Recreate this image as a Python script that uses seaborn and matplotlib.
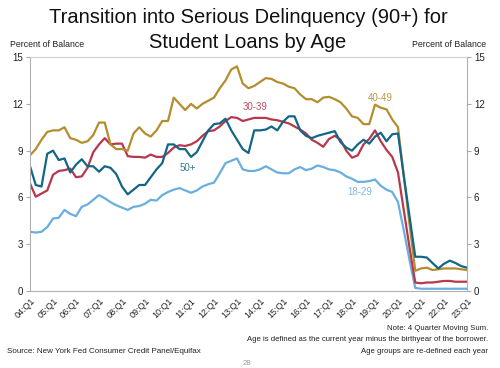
import matplotlib
matplotlib.use("Agg")
import matplotlib.pyplot as plt
import seaborn as sns
import pandas as pd

# Quarterly series, 2004Q1 .. 2023Q1 (4 quarter moving sum, percent of balance)
age_18_29 = [3.8, 3.75, 3.8, 4.1, 4.65, 4.7, 5.2, 4.95, 4.8, 5.4,
             5.55, 5.85, 6.15, 5.95, 5.7, 5.5, 5.35, 5.2, 5.4, 5.45,
             5.6, 5.85, 5.8, 6.15, 6.35, 6.5, 6.6, 6.45, 6.3, 6.45,
             6.7, 6.85, 6.95, 7.55, 8.2, 8.35, 8.5, 7.8, 7.7, 7.7,
             7.8, 8.0, 7.8, 7.6, 7.55, 7.55, 7.8, 7.95, 7.75, 7.85,
             8.05, 7.95, 7.8, 7.75, 7.6, 7.35, 7.2, 7.0, 7.0, 7.05,
             7.15, 6.75, 6.5, 6.35, 5.7, 3.9, 2.0, 0.2, 0.15, 0.15,
             0.15, 0.15, 0.15, 0.15, 0.15, 0.15, 0.15]
age_30_39 = [6.9, 6.05, 6.25, 6.45, 7.45, 7.7, 7.75, 7.85, 7.3, 7.35,
             7.9, 8.9, 9.4, 9.8, 9.4, 9.45, 9.45, 8.65, 8.6, 8.6,
             8.55, 8.75, 8.6, 8.6, 8.85, 9.2, 9.35, 9.3, 9.4, 9.6,
             9.95, 10.25, 10.3, 10.55, 10.9, 11.15, 11.1, 10.9, 11.0, 11.1,
             11.1, 11.1, 11.0, 10.95, 10.85, 10.75, 10.55, 10.35, 10.1, 9.7,
             9.5, 9.25, 9.75, 9.95, 9.7, 9.0, 8.55, 8.7, 9.4, 9.75,
             10.3, 9.6, 9.05, 8.6, 7.6, 5.2, 2.8, 0.55, 0.5, 0.55,
             0.55, 0.6, 0.65, 0.65, 0.6, 0.6, 0.6]
age_40_49 = [8.7, 9.1, 9.7, 10.2, 10.3, 10.3, 10.5, 9.8, 9.7, 9.5,
             9.6, 10.0, 10.8, 10.8, 9.4, 9.1, 9.1, 9.0, 10.1, 10.5,
             10.1, 9.9, 10.3, 10.9, 10.9, 12.4, 12.0, 11.6, 12.0, 11.7,
             12.0, 12.2, 12.4, 13.0, 13.5, 14.2, 14.4, 13.3, 13.0, 13.15,
             13.4, 13.65, 13.6, 13.4, 13.3, 13.1, 13.0, 12.6, 12.3, 12.3,
             12.1, 12.4, 12.45, 12.3, 12.1, 11.7, 11.2, 11.1, 10.7, 10.7,
             11.95, 11.75, 11.65, 11.0, 10.5, 7.4, 4.3, 1.3, 1.45, 1.5,
             1.35, 1.4, 1.45, 1.45, 1.45, 1.4, 1.35]
age_50_plus = [8.0, 6.8, 6.7, 8.8, 9.0, 8.4, 8.5, 7.6, 8.1, 8.45,
               8.0, 8.0, 7.65, 8.0, 7.9, 7.5, 6.7, 6.2, 6.5, 6.8,
               6.8, 7.3, 7.8, 8.2, 9.4, 9.4, 9.1, 9.1, 8.6, 8.9,
               9.6, 10.3, 10.7, 10.75, 11.05, 10.3, 9.7, 9.1, 8.85, 10.3,
               10.3, 10.35, 10.55, 10.3, 10.85, 11.2, 11.2, 10.3, 9.95, 9.8,
               9.95, 10.05, 10.15, 10.25, 9.55, 9.2, 9.0, 9.4, 9.7, 9.45,
               9.9, 10.15, 9.6, 10.05, 10.1, 7.4, 4.8, 2.2, 2.2, 2.15,
               1.8, 1.45, 1.75, 1.95, 1.8, 1.6, 1.5]

groups = ["18-29", "30-39", "40-49", "50+"]
line_colors = ["#6aaee0", "#b7384a", "#b48e2e", "#126686"]
label_colors = ["#7fb8e2", "#c0505e", "#b8963e", "#2a7a96"]
# where the group names sit (quarter index, value)
label_x = [57.3, 39.1, 60.9, 27.5]
label_y = [6.35, 11.8, 12.4, 7.9]

years = list(range(2004, 2024))
tick_labels = [f"{y % 100:02d}:Q1" for y in years]
n_q = len(age_18_29)

df = pd.DataFrame({
    "q": list(range(n_q)) * 4,
    "value": age_18_29 + age_30_39 + age_40_49 + age_50_plus,
    "group": sum([[g] * n_q for g in groups], []),
})

sns.set_style("white")
plt.rcParams['font.family'] = ['Liberation Sans', 'DejaVu Sans']

fig = plt.figure(figsize=(5.0, 3.68), dpi=100)
ax = fig.add_axes([0.06, 0.209, 0.874, 0.636])

sns.lineplot(data=df, x="q", y="value", hue="group", hue_order=groups,
             palette=line_colors, linewidth=1.6, legend=False, ax=ax)

ax.set_xlim(0, n_q - 1)
ax.set_ylim(0, 15)
ax.set_yticks(range(0, 16, 3))
ax.set_xticks(range(0, n_q, 4))
ax.set_xticklabels(tick_labels, rotation=45, ha="right", rotation_mode="anchor",
                   fontsize=6.5, color="#222222")
ax.set_xticks(range(n_q), minor=True)
ax.tick_params(axis="x", which="both", length=2, color="#aaaaaa", pad=2)
ax.tick_params(axis="y", length=3, color="#aaaaaa", labelsize=7, pad=2,
               labelcolor="#222222")
ax.set_xlabel("")
ax.set_ylabel("")

for side in ["left", "right", "bottom"]:
    ax.spines[side].set_color("#b0b0b0")
    ax.spines[side].set_linewidth(0.8)
ax.spines["top"].set_color("#d0d0d0")
ax.spines["top"].set_linewidth(0.8)

ax2 = ax.twinx()
ax2.set_ylim(0, 15)
ax2.set_yticks(range(0, 16, 3))
ax2.tick_params(axis="y", length=3, color="#aaaaaa", labelsize=7, pad=2,
                labelcolor="#222222")
for s in ax2.spines.values():
    s.set_visible(False)

for g, c, lx, ly in zip(groups, label_colors, label_x, label_y):
    ax.text(lx, ly, g, color=c, fontsize=7, ha="center", va="center")

fig.text(0.496, 0.952, "Transition into Serious Delinquency (90+) for",
         ha="center", va="center", fontsize=14.5, color="#111111")
fig.text(0.496, 0.884, "Student Loans by Age",
         ha="center", va="center", fontsize=14.5, color="#111111")
fig.text(0.02, 0.88, "Percent of Balance", ha="left", va="center",
         fontsize=6.3, color="#222222")
fig.text(0.972, 0.88, "Percent of Balance", ha="right", va="center",
         fontsize=6.3, color="#222222")

fig.text(0.976, 0.108, "Note: 4 Quarter Moving Sum.", ha="right", va="center",
         fontsize=5.6, color="#222222")
fig.text(0.976, 0.078,
         "Age is defined as the current year minus the birthyear of the borrower.",
         ha="right", va="center", fontsize=5.6, color="#222222")
fig.text(0.976, 0.046, "Age groups are re-defined each year", ha="right",
         va="center", fontsize=5.6, color="#222222")
fig.text(0.014, 0.046, "Source: New York Fed Consumer Credit Panel/Equifax",
         ha="left", va="center", fontsize=5.8, color="#222222")
fig.text(0.494, 0.011, "28", ha="center", va="center", fontsize=5.6,
         color="#999999")

fig.savefig("out.png", dpi=100)
